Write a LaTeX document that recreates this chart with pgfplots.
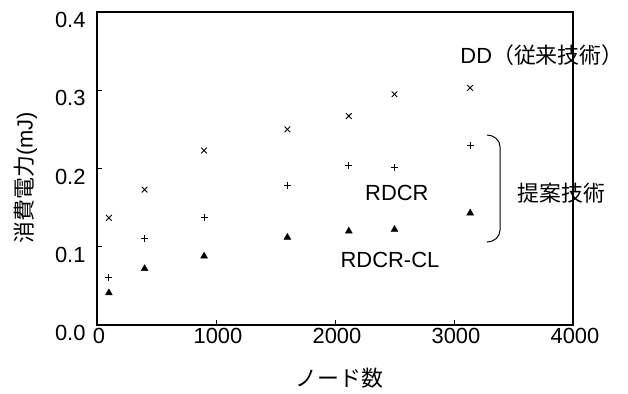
\documentclass[border=0pt]{standalone}
\usepackage{fontspec}
\setmainfont{Liberation Sans}
\newfontfamily\jp{Noto Sans CJK JP}
\usepackage{pgfplots}
\pgfplotsset{compat=1.18}
\begin{document}
\begin{tikzpicture}
\begin{axis}[
  scale only axis, width=476bp, height=313bp,
  xmin=0, xmax=4000, ymin=0, ymax=0.4,
  xtick={0,1000,2000,3000,4000},
  ytick={0,0.1,0.2,0.3,0.4},
  scaled y ticks=false,
  /pgf/number format/assume math mode=true,
  yticklabel style={/pgf/number format/fixed, /pgf/number format/fixed zerofill, /pgf/number format/precision=1, xshift=-8bp, yshift=-8bp},
  xticklabel style={/pgf/number format/1000 sep={}, xshift=2bp},
  tick label style={font=\fontsize{22}{26}\selectfont},
  tick align=inside, xtick pos=bottom, ytick pos=left,
  major tick length=5bp,
  axis line style={line width=1.3bp},
  tick style={line width=1bp, black},
  clip mode=individual,
  xlabel={\jp ノード数},
  ylabel={{\jp 消費電力}(mJ)},
  label style={font=\fontsize{22}{26}\selectfont},
  xlabel style={at={(axis description cs:0.51,-0.169)}, anchor=center},
  ylabel style={at={(axis description cs:-0.150,0.47)}, anchor=center},
]
\coordinate (ll) at (rel axis cs:0,0);
\coordinate (ur) at (rel axis cs:1,1);
% DD (conventional)
\addplot[only marks, mark=x, mark size=4bp, mark options={line width=0.9bp, black}] coordinates {
  (100,0.137) (200,0.4015) (400,0.173) (900,0.223) (1600,0.250) (2116,0.267) (2500,0.295) (3136,0.303)
};
% RDCR
\addplot[only marks, mark=+, mark size=3.5bp, mark options={line width=0.9bp, black}] coordinates {
  (100,0.061) (400,0.110) (900,0.137) (1600,0.178) (2116,0.204) (2500,0.2015) (3136,0.229)
};
% RDCR-CL
\addplot[only marks, mark=triangle*, mark size=4bp, mark options={black, fill=black}] coordinates {
  (100,0.041) (400,0.072) (900,0.088) (1600,0.112) (2116,0.120) (2500,0.122) (3136,0.143)
};
\node[font=\fontsize{22}{26}\selectfont, anchor=center] at (axis cs:3740,0.345) {DD{\jp （従来技術）}};
\node[font=\fontsize{22}{26}\selectfont, anchor=center] at (axis cs:2520,0.169) {RDCR};
\node[font=\fontsize{22}{26}\selectfont, anchor=center] at (axis cs:2462,0.0837) {RDCR-CL};
\node[font=\fontsize{22}{26}\selectfont, anchor=center] at (axis cs:3900,0.169) {\jp 提案技術};
\draw[line width=1bp] (axis cs:3277,0.2428) to[out=0,in=90] (axis cs:3387,0.2275) -- (axis cs:3387,0.1214) to[out=-90,in=0] (axis cs:3277,0.106);
\end{axis}
\pgfresetboundingbox
\path ([shift={(-97bp,-69bp)}]ll) rectangle ([shift={(55bp,12bp)}]ur);
\end{tikzpicture}
\end{document}
